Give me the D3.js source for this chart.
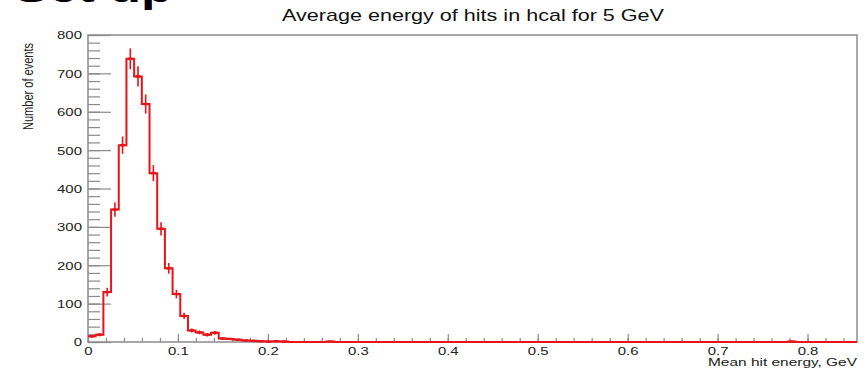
<!DOCTYPE html>
<html>
<head>
<meta charset="utf-8">
<script src="https://cdn.jsdelivr.net/npm/d3@7"></script>
<style>
  body { margin: 0; background: #fff; }
  text { font-family: "Liberation Sans", Arial, sans-serif; fill: #222; }
</style>
</head>
<body>
<svg width="866" height="374"></svg>
<script>
// histogram: 100 bins over the x range, counts
var xLow = 0, xHigh = 0.855;
var counts = [
  15, 19, 130, 345, 513, 738, 692, 620, 440, 295,
  192, 125, 68, 30, 25, 19, 24, 9, 8, 6,
  4, 3, 2, 1, 2, 1, 0, 0, 0, 0,
  0, 1, 0, 0, 0, 0, 0, 0, 0, 0,
  0, 0, 0, 0, 0, 0, 0, 0, 0, 0,
  0, 0, 0, 0, 0, 0, 0, 0, 0, 0,
  0, 0, 0, 0, 0, 0, 0, 0, 0, 0,
  0, 0, 0, 0, 0, 0, 0, 0, 0, 0,
  0, 0, 0, 0, 0, 0, 0, 0, 0, 0,
  0, 1, 0, 0, 0, 0, 0, 0, 0, 0
];
var xTicks = [0, 0.1, 0.2, 0.3, 0.4, 0.5, 0.6, 0.7, 0.8];
var xMinor = d3.range(0, 0.855, 0.02);
var yTicks = [0, 100, 200, 300, 400, 500, 600, 700, 800];
var yMinor = d3.range(0, 801, 20);
var title = "Average energy of hits in hcal for 5 GeV";
var xTitle = "Mean hit energy, GeV";
var yTitle = "Number of events";
var slideTitle = "Set up";

// the picture is stretched sideways, text gets a horizontal stretch
var stretch = 1.3;

var margin = {top: 35, right: 9, bottom: 32, left: 88},
    width = 866 - margin.left - margin.right,
    height = 374 - margin.top - margin.bottom;

var svg = d3.select("svg");

// cut-off slide heading at the top left
svg.append("text")
    .attr("transform", "translate(14,2) scale(" + stretch + ",1)")
    .style("font-size", "40px")
    .style("font-weight", "bold")
    .style("fill", "#000")
    .text(slideTitle);

var g = svg.append("g")
    .attr("transform", "translate(" + margin.left + "," + margin.top + ")");

var x = d3.scaleLinear().domain([xLow, xHigh]).range([0, width]);
var y = d3.scaleLinear().domain([0, 800]).range([height, 0]);
var binW = (xHigh - xLow) / counts.length;

// y axis, ticks pointing into the frame
g.append("g")
    .attr("class", "minor")
    .call(d3.axisLeft(y).tickValues(yMinor).tickSize(-12).tickFormat(""));
var yAxis = g.append("g")
    .call(d3.axisLeft(y).tickValues(yTicks).tickSize(-23).tickPadding(6));
yAxis.selectAll("text")
    .attr("x", null).attr("dy", null)
    .attr("dominant-baseline", "central")
    .attr("transform", "translate(-6,0) scale(" + stretch + ",1)")
    .style("font-size", "11.5px");

// x axis, ticks pointing up
g.append("g")
    .attr("transform", "translate(0," + height + ")")
    .call(d3.axisBottom(x).tickValues(xMinor).tickSize(-4).tickFormat(""));
var xAxis = g.append("g")
    .attr("transform", "translate(0," + height + ")")
    .call(d3.axisBottom(x).tickValues(xTicks).tickSize(-8).tickFormat(d3.format("")));
xAxis.selectAll("text")
    .attr("y", null).attr("dy", null)
    .attr("transform", "translate(0,13) scale(" + stretch + ",1)")
    .style("font-size", "11.5px");

g.selectAll(".domain").remove();
g.selectAll(".tick line").attr("stroke", "#8a8a8a").attr("stroke-width", 1.2);

// frame
g.append("rect")
    .attr("width", width).attr("height", height)
    .attr("fill", "none")
    .attr("stroke", "#8c8c8c")
    .attr("stroke-width", 1.5);

// histogram outline
var steps = counts.map(function(c, i) { return [xLow + i * binW, c]; });
steps.push([xHigh, counts[counts.length - 1]]);
var line = d3.line()
    .x(function(d) { return x(d[0]); })
    .y(function(d) { return y(d[1]); })
    .curve(d3.curveStepAfter);

g.append("path")
    .datum(steps)
    .attr("fill", "none")
    .attr("stroke", "#e8141a")
    .attr("stroke-width", 2)
    .attr("d", line);

// error bars sqrt(N) and markers
var filled = counts.map(function(c, i) { return {c: c, xc: xLow + (i + 0.5) * binW}; })
    .filter(function(d) { return d.c > 0; });
var err = g.append("g").attr("stroke", "#e8141a");
err.selectAll("line.v")
    .data(filled).enter().append("line")
    .attr("class", "v")
    .attr("x1", function(d) { return x(d.xc); })
    .attr("x2", function(d) { return x(d.xc); })
    .attr("y1", function(d) { return y(d.c + Math.sqrt(d.c)); })
    .attr("y2", function(d) { return y(d.c - Math.sqrt(d.c)); })
    .attr("stroke-width", 1.6);
err.selectAll("line.h")
    .data(filled).enter().append("line")
    .attr("class", "h")
    .attr("x1", function(d) { return x(d.xc) - 2.5; })
    .attr("x2", function(d) { return x(d.xc) + 2.5; })
    .attr("y1", function(d) { return y(d.c); })
    .attr("y2", function(d) { return y(d.c); })
    .attr("stroke-width", 2.4);

// titles
svg.append("text")
    .attr("x", 473).attr("y", 21)
    .attr("text-anchor", "middle")
    .attr("textLength", 382)
    .attr("lengthAdjust", "spacingAndGlyphs")
    .style("font-size", "17px")
    .style("fill", "#111")
    .text(title);

svg.append("text")
    .attr("x", 857).attr("y", 366)
    .attr("text-anchor", "end")
    .attr("textLength", 149)
    .attr("lengthAdjust", "spacingAndGlyphs")
    .style("font-size", "11.5px")
    .text(xTitle);

svg.append("text")
    .attr("transform", "translate(33,43) rotate(-90) scale(1," + stretch + ")")
    .attr("text-anchor", "end")
    .attr("textLength", 87)
    .attr("lengthAdjust", "spacingAndGlyphs")
    .style("font-size", "11.5px")
    .text(yTitle);
</script>
</body>
</html>
